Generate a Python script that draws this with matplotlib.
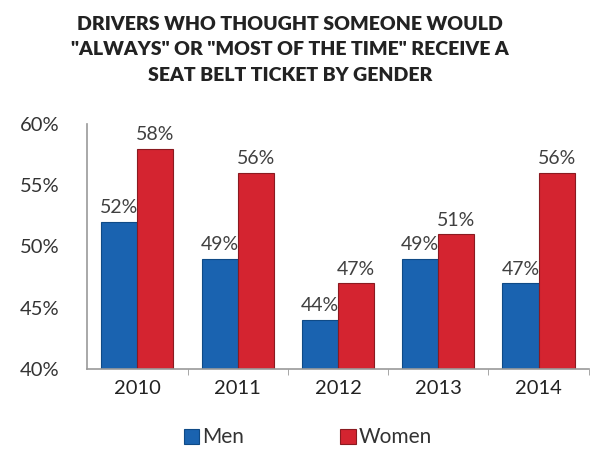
import numpy as np
import matplotlib.pyplot as plt

years = ["2010", "2011", "2012", "2013", "2014"]
men = [52, 49, 44, 49, 47]
women = [58, 56, 47, 51, 56]
y_ticks = [40, 45, 50, 55, 60]

plt.rcParams['font.family'] = ['Lato', 'DejaVu Sans']

fig = plt.figure(figsize=(6.1, 4.51), dpi=100)
ax = fig.add_axes([0.143, 0.182, 0.822, 0.543])

x = np.arange(len(years))
w = 0.36
blue = "#1a63b0"
red = "#d42430"
b1 = ax.bar(x - w/2, men, w, color=blue, edgecolor="#0f4a86", linewidth=0.8, label="Men")
b2 = ax.bar(x + w/2, women, w, color=red, edgecolor="#8a1a20", linewidth=0.8, label="Women")

for bars, vals in ((b1, men), (b2, women)):
    for r, v in zip(bars, vals):
        ax.annotate(f"{v}%", (r.get_x() + r.get_width()/2, v), xytext=(0, 4),
                    textcoords="offset points", ha="center", va="bottom",
                    fontsize=14, color="#404040")

ax.set_ylim(40, 60)
ax.set_xlim(-0.5, len(years) - 0.5)
ax.set_yticks(y_ticks)
ax.set_yticklabels([f"{t}%" for t in y_ticks], fontsize=14.5, color="#333333")
ax.tick_params(axis="y", length=0, pad=20)
ax.set_xticks(x)
ax.set_xticklabels(years, fontsize=14.5, color="#222222")
ax.tick_params(axis="x", length=0, pad=8)
ax.set_xticks(np.arange(len(years)) + 0.5, minor=True)
ax.tick_params(axis="x", which="minor", length=4, color="#999999")

for s in ("top", "right"):
    ax.spines[s].set_visible(False)
for s in ("left", "bottom"):
    ax.spines[s].set_color("#999999")
    ax.spines[s].set_linewidth(1.2)

fig.text(0.475, 0.965, "DRIVERS WHO THOUGHT SOMEONE WOULD\n\"ALWAYS\" OR \"MOST OF THE TIME\" RECEIVE A\nSEAT BELT TICKET BY GENDER",
         ha="center", va="top", fontsize=14, fontweight="heavy", color="#222222", linespacing=1.6)

fig.legend(handles=[b1, b2], loc="center", bbox_to_anchor=(0.505, 0.03), ncol=2, frameon=False,
           fontsize=15, handlelength=0.75, handleheight=0.75, handletextpad=0.15, columnspacing=4.6,
           labelcolor="#333333")

fig.savefig("out.png", dpi=100)
